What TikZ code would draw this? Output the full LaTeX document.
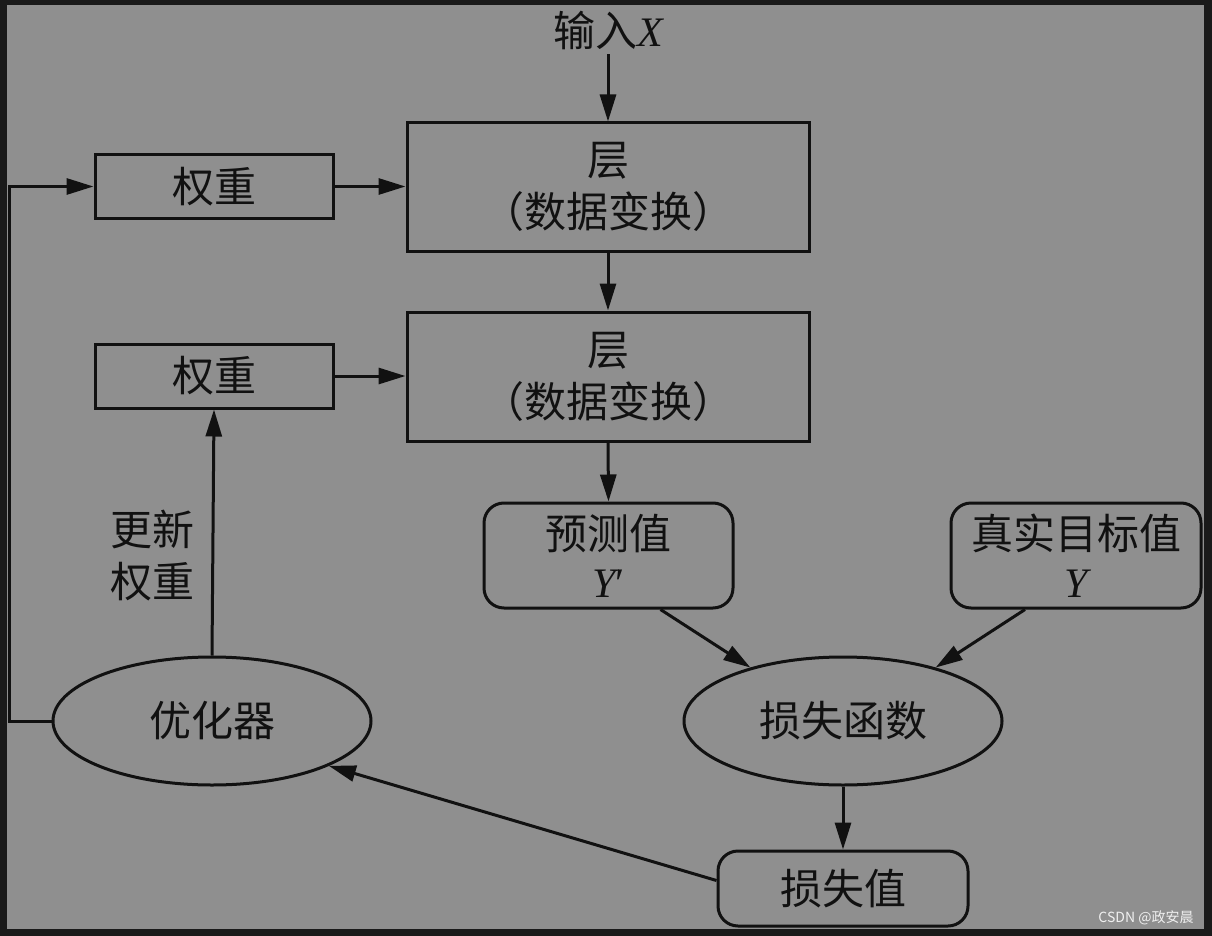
\documentclass[tikz,border=0pt]{standalone}
\usepackage{fontspec}
\setmainfont{Noto Sans CJK SC}
\newfontfamily\latserif{Liberation Serif}
\usetikzlibrary{arrows.meta,shapes.geometric,calc}
\definecolor{bg}{HTML}{8F8F8F}
\definecolor{frame}{HTML}{1A1A1A}
\definecolor{ink}{HTML}{111111}
\newcommand{\lvar}[1]{{\latserif\itshape #1}}
\begin{document}
\begin{tikzpicture}[x=1pt,y=-1pt,
  line width=3pt,
  every node/.style={font=\fontsize{42}{52}\selectfont, text=ink},
  sqbox/.style={draw=ink, rectangle, inner sep=0pt, align=center},
  rbox/.style={draw=ink, rectangle, rounded corners=20pt, inner sep=0pt, align=center},
  ebox/.style={draw=ink, ellipse, inner sep=0pt, minimum width=318pt, minimum height=128pt},
  arr/.style={draw=ink, -{Triangle[length=27pt,width=16pt]}},
  plain/.style={draw=ink}]
\fill[frame] (0,0) rectangle (1212,936);
\fill[bg] (7,5) rectangle (1204,929);
\useasboundingbox (0,0) rectangle (1212,936);

\node (in) at (608,30) {输入\lvar{X}};
\node[sqbox, minimum width=402pt, minimum height=128pt] (L1) at (608,187) {层\\（数据变换）};
\node[sqbox, minimum width=402pt, minimum height=129pt] (L2) at (608,376.5) {层\\（数据变换）};
\node[sqbox, minimum width=238pt, minimum height=63pt] (W1) at (214,186.5) {权重};
\node[sqbox, minimum width=238pt, minimum height=64pt] (W2) at (214,376) {权重};
\node[rbox, minimum width=249pt, minimum height=105pt] (P) at (608.5,555.5) {预测值\\[-4pt]\lvar{Y}{\latserif ′}};
\node[rbox, minimum width=250pt, minimum height=105pt] (T) at (1076,555.5) {真实目标值\\[-4pt]\lvar{Y}};
\node[ebox] (LF) at (843,721) {损失函数};
\node[ebox] (O) at (212,721) {优化器};
\node[rbox, minimum width=250pt, minimum height=75pt] (LV) at (843,888.5) {损失值};
\node[align=center] (upd) at (152,556) {更新\\权重};
\node[font=\fontsize{14}{16}\selectfont, text=gray!12] (wm) at (1146,918) {CSDN @政安晨};

\coordinate (fb) at (9,721);

\draw[arr] (in.south) -- (L1.north);
\draw[arr] (L1.south) -- (L2.north);
\draw[arr] (W1.east) -- (L1.west |- W1.east);
\draw[arr] (W2.east) -- (L2.west |- W2.east);
\draw[arr] (L2.south) -- (P.north);
\draw[arr] ($(P.south)+(52,0)$) -- (LF.150);
\draw[arr] ($(T.south)+(-51,0)$) -- (LF.30);
\draw[arr] (LF.south) -- (LV.north);
\draw[arr] ($(LV.west)+(0,-8)$) -- (O.-21);
\draw[arr] (O.north) -- (W2.south);
\draw[arr] (O.west) -- (fb) |- (W1.west);
\end{tikzpicture}
\end{document}
